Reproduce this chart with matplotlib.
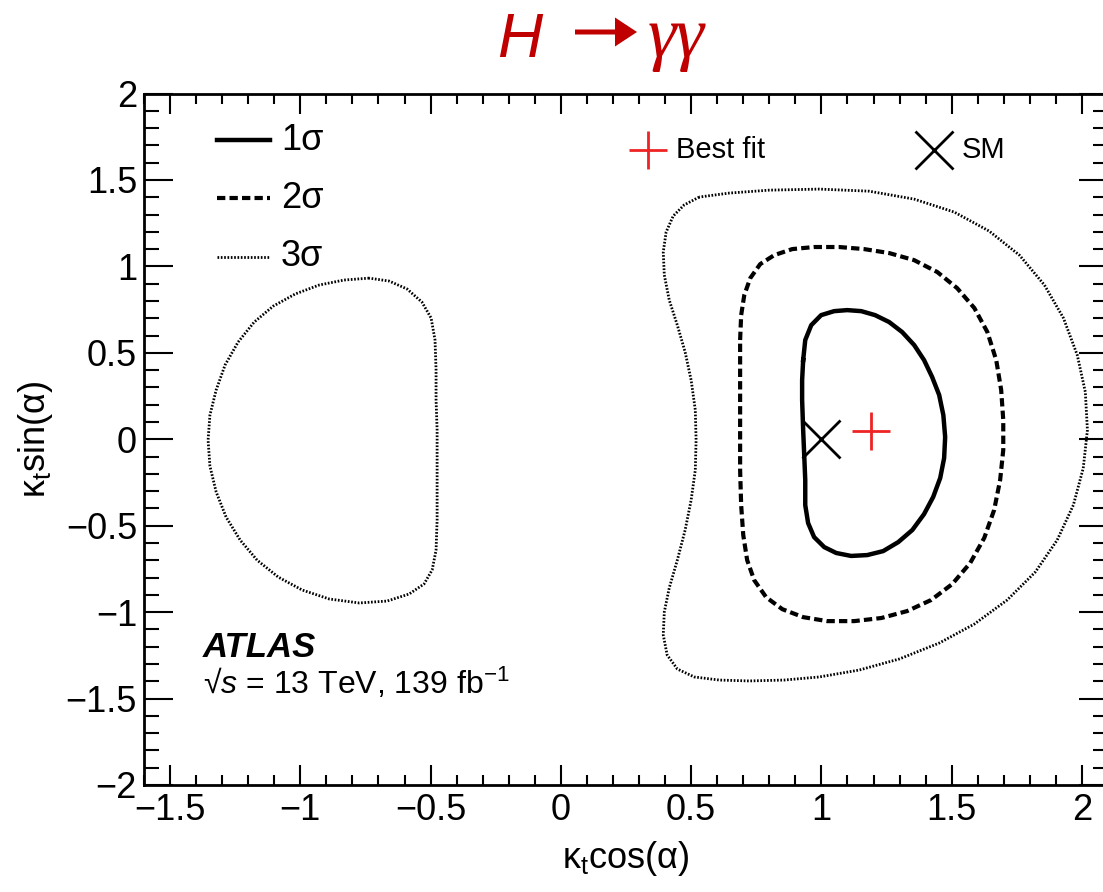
import matplotlib
matplotlib.use("Agg")
import matplotlib.pyplot as plt
from matplotlib.ticker import MultipleLocator, FixedLocator, FuncFormatter
from matplotlib.patches import FancyArrow
from matplotlib.transforms import IdentityTransform

plt.rcParams['font.family'] = ['Liberation Sans', 'DejaVu Sans']
plt.rcParams['mathtext.fontset'] = 'custom'
plt.rcParams['mathtext.rm'] = 'Liberation Sans'
plt.rcParams['mathtext.it'] = 'Liberation Sans:italic'

# 1 sigma contour (kappa_t cos(alpha), kappa_t sin(alpha))
sig1_x = [0.930, 0.938, 0.961, 0.999, 1.049, 1.099, 1.153, 1.206, 1.260, 1.310, 1.356,
          1.394, 1.425, 1.452, 1.468, 1.475, 1.471, 1.456, 1.429, 1.394, 1.349, 1.295,
          1.237, 1.176, 1.114, 1.057, 1.011, 0.972, 0.949, 0.938, 0.938, 0.934, 0.930,
          0.926, 0.926, 0.930]
sig1_y = [0.458, 0.574, 0.660, 0.718, 0.741, 0.747, 0.741, 0.718, 0.678, 0.620, 0.545,
          0.458, 0.360, 0.256, 0.140, 0.013, -0.109, -0.224, -0.334, -0.433, -0.525, -0.595,
          -0.647, -0.670, -0.675, -0.658, -0.624, -0.566, -0.485, -0.381, -0.236, -0.091,
          0.053, 0.227, 0.342, 0.458]

# 2 sigma contour
sig2_x = [0.688, 0.692, 0.704, 0.727, 0.765, 0.819, 0.888, 0.972, 1.068, 1.164, 1.260,
          1.356, 1.445, 1.521, 1.587, 1.637, 1.671, 1.690, 1.698, 1.698, 1.686, 1.663,
          1.625, 1.571, 1.502, 1.421, 1.329, 1.230, 1.126, 1.022, 0.930, 0.850, 0.788,
          0.742, 0.715, 0.700, 0.692, 0.688, 0.688, 0.688, 0.688, 0.688]
sig2_y = [0.574, 0.718, 0.834, 0.932, 1.013, 1.065, 1.100, 1.112, 1.112, 1.100, 1.077,
          1.036, 0.967, 0.874, 0.759, 0.620, 0.458, 0.285, 0.111, -0.062, -0.236, -0.409,
          -0.571, -0.716, -0.838, -0.930, -0.994, -1.034, -1.052, -1.052, -1.029, -0.983,
          -0.914, -0.815, -0.699, -0.554, -0.381, -0.178, 0.024, 0.227, 0.400, 0.574]

# 3 sigma contour, island around kappa_t cos(alpha) > 0
sig3a_x = [0.531, 0.473, 0.431, 0.404, 0.393, 0.397, 0.416, 0.447, 0.477, 0.500, 0.516,
           0.519, 0.516, 0.500, 0.477, 0.447, 0.416, 0.397, 0.393, 0.408, 0.447, 0.512,
           0.608, 0.723, 0.857, 0.992, 1.145, 1.299, 1.452, 1.587, 1.713, 1.821, 1.905,
           1.967, 2.005, 2.021, 2.013, 1.982, 1.929, 1.856, 1.760, 1.644, 1.510, 1.356,
           1.183, 0.992, 0.800, 0.646, 0.531]
sig3a_y = [1.401, 1.355, 1.291, 1.198, 1.083, 0.950, 0.805, 0.660, 0.504, 0.342, 0.169,
           -0.005, -0.178, -0.352, -0.525, -0.699, -0.860, -0.999, -1.132, -1.248, -1.329,
           -1.375, -1.393, -1.398, -1.393, -1.375, -1.335, -1.271, -1.179, -1.069, -0.930,
           -0.768, -0.583, -0.381, -0.167, 0.053, 0.273, 0.487, 0.701, 0.892, 1.065, 1.204,
           1.314, 1.389, 1.435, 1.447, 1.441, 1.424, 1.401]

# 3 sigma contour, island around kappa_t cos(alpha) < 0
sig3b_x = [-0.736, -0.832, -0.928, -1.020, -1.104, -1.177, -1.239, -1.289, -1.323, -1.347,
           -1.354, -1.347, -1.323, -1.285, -1.231, -1.166, -1.085, -0.993, -0.889, -0.774,
           -0.667, -0.582, -0.525, -0.494, -0.479, -0.475, -0.475, -0.475, -0.475, -0.479,
           -0.479, -0.483, -0.498, -0.533, -0.590, -0.659, -0.736]
sig3b_y = [0.932, 0.921, 0.892, 0.840, 0.770, 0.678, 0.562, 0.429, 0.285, 0.140, -0.005,
           -0.155, -0.305, -0.450, -0.583, -0.699, -0.797, -0.872, -0.924, -0.947, -0.936,
           -0.895, -0.837, -0.756, -0.641, -0.467, -0.294, -0.120, 0.053, 0.227, 0.400,
           0.574, 0.701, 0.793, 0.869, 0.915, 0.932]

best_fit = (1.19, 0.05)
sm_point = (1.0, 0.0)

x_ticks = [-1.5, -1.0, -0.5, 0.0, 0.5, 1.0, 1.5, 2.0]
y_ticks = [-2.0, -1.5, -1.0, -0.5, 0.0, 0.5, 1.0, 1.5, 2.0]

RED = '#ee2424'
TITLE_RED = '#c00000'
W, H = 1103, 892

fig = plt.figure(figsize=(W / 100, H / 100), dpi=100)
left_px, right_px, top_px, bot_px = 144, 1108, 93.5, 785
ax = fig.add_axes([left_px / W, 1 - bot_px / H, (right_px - left_px) / W, (bot_px - top_px) / H])
ax.set_xlim(-1.6, 2.1)
ax.set_ylim(-2.0, 2.0)

solid_style = dict(color='black', lw=3.2, linestyle='-', solid_joinstyle='round')
dash_style = dict(color='black', lw=3.0, linestyle=(0, (2.0, 1.0)))
dot_style = dict(color='black', lw=2.0, linestyle=(0, (0.6, 0.6)))

ax.plot(sig1_x, sig1_y, **solid_style)
ax.plot(sig2_x, sig2_y, **dash_style)
ax.plot(sig3a_x, sig3a_y, **dot_style)
ax.plot(sig3b_x, sig3b_y, **dot_style)

ax.plot([best_fit[0]], [best_fit[1]], marker='+', color=RED, markersize=27, mew=2.0, ls='none')
ax.plot([sm_point[0]], [sm_point[1]], marker='x', color='black', markersize=27, mew=2.0, ls='none')

# frame and ticks
for s in ax.spines.values():
    s.set_linewidth(2.0)
ax.xaxis.set_major_locator(FixedLocator(x_ticks))
ax.yaxis.set_major_locator(FixedLocator(y_ticks))
ax.xaxis.set_minor_locator(MultipleLocator(0.1))
ax.yaxis.set_minor_locator(MultipleLocator(0.1))
fmt = FuncFormatter(lambda v, p: ('%g' % v).replace('-', '\u2212'))
ax.xaxis.set_major_formatter(fmt)
ax.yaxis.set_major_formatter(fmt)
ax.tick_params(which='both', direction='in', top=True, right=True, width=1.5, labelsize=26)
ax.tick_params(axis='x', which='major', length=14.5, pad=6)
ax.tick_params(axis='x', which='minor', length=7.2)
ax.tick_params(axis='y', which='major', length=21, pad=5)
ax.tick_params(axis='y', which='minor', length=10.5)

ax.set_xlabel('\u03ba$_{\\mathrm{t}}$cos(\u03b1)', fontsize=26, labelpad=8)
ax.set_ylabel('\u03ba$_{\\mathrm{t}}$sin(\u03b1)', fontsize=26, labelpad=8)


def ax_frac(px, py):
    return (px - left_px) / (right_px - left_px), (bot_px - py) / (bot_px - top_px)


# legend for the contour levels
for (py, lab, st) in [(140, '1\u03c3', solid_style), (198, '2\u03c3', dash_style), (257, '3\u03c3', dot_style)]:
    x0, y0 = ax_frac(217, py)
    x1, _ = ax_frac(270, py)
    ax.plot([x0, x1], [y0, y0], transform=ax.transAxes, clip_on=False, **st)
    tx, _ = ax_frac(281, py)
    ax.text(tx, y0, lab, transform=ax.transAxes, fontsize=26, va='center', ha='left')

mx, my = ax_frac(648, 150)
ax.plot([mx], [my], transform=ax.transAxes, marker='+', color=RED, markersize=27, mew=2.0, ls='none')
tx, _ = ax_frac(676, 150)
ax.text(tx, my, 'Best fit', transform=ax.transAxes, fontsize=21, va='center', ha='left')
mx, my = ax_frac(934, 150)
ax.plot([mx], [my], transform=ax.transAxes, marker='x', color='black', markersize=27, mew=2.0, ls='none')
tx, _ = ax_frac(962, 150)
ax.text(tx, my, 'SM', transform=ax.transAxes, fontsize=21, va='center', ha='left')

# experiment labels
tx, ty = ax_frac(203, 657)
ax.text(tx, ty, 'ATLAS', transform=ax.transAxes, fontsize=25, fontweight='bold', fontstyle='italic',
        va='baseline', ha='left')
tx, ty = ax_frac(203, 694)
ax.text(tx, ty, '\u221a$\\mathit{s}$ = 13 TeV, 139 fb$^{\\mathrm{-1}}$', transform=ax.transAxes,
        fontsize=23, va='baseline', ha='left')

# process title: H -> gamma gamma
fig.text(497 / W, 1 - 57 / H, 'H', color=TITLE_RED, fontsize=45, fontstyle='italic',
         family='Liberation Sans', ha='left', va='baseline')
fig.add_artist(FancyArrow(575, H - 32, 40, 0, width=5, head_width=29, head_length=22,
                          length_includes_head=False, color=TITLE_RED, lw=0,
                          transform=IdentityTransform()))
fig.text(648 / W, 1 - 57 / H, '\u03b3\u03b3', color=TITLE_RED, fontsize=52, fontstyle='italic',
         family='Liberation Serif', ha='left', va='baseline')

fig.savefig('out.png', dpi=100)
